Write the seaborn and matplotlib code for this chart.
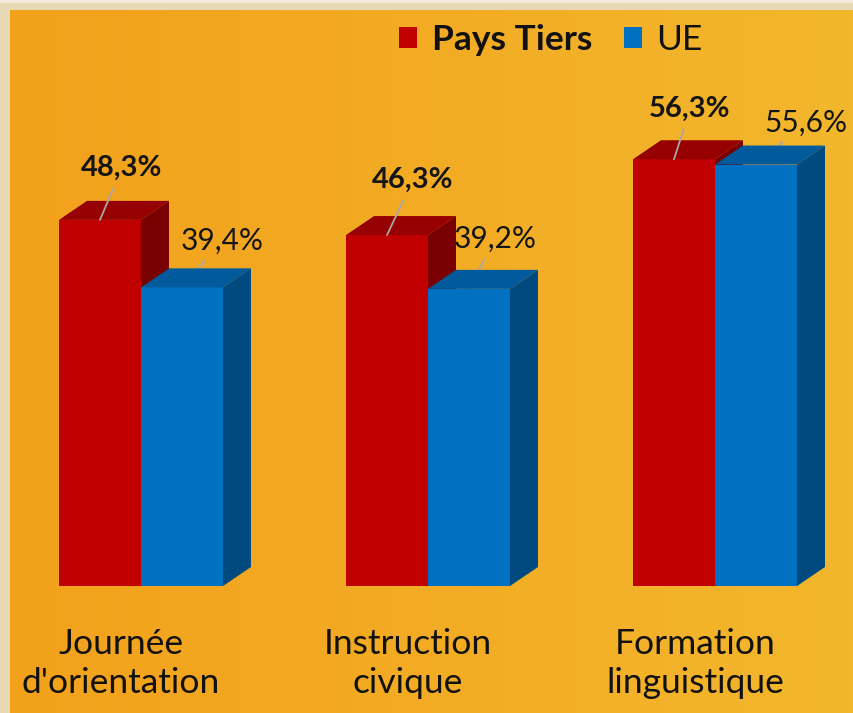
import numpy as np
import pandas as pd
import matplotlib
matplotlib.use("Agg")
import matplotlib.pyplot as plt
import matplotlib.transforms as mtransforms
import seaborn as sns
from matplotlib.patches import Polygon, Patch, Rectangle

# ---- data ----
categories = ["Journée\nd'orientation", "Instruction\ncivique", "Formation\nlinguistique"]
series = ["Pays Tiers", "UE"]
pays_tiers = [48.3, 46.3, 56.3]
ue = [39.4, 39.2, 55.6]

# ---- style ----
front_colors = ["#C00000", "#0070C0"]
top_colors = ["#960000", "#005A9C"]
side_colors = ["#780000", "#004A80"]
depth_px = (28, 19)
# label offsets in pixels (dx, dy) per series, per group
label_offsets = [[(22, 52), (26, 55), (16, 50)],
                 [(40, 47), (26, 50), (50, 42)]]

sns.set_style("white")
plt.rcParams["font.family"] = ["Lato", "DejaVu Sans"]

df = pd.DataFrame({
    "category": categories * 2,
    "series": [series[0]] * 3 + [series[1]] * 3,
    "value": pays_tiers + ue,
})

W, H = 854, 713
fig = plt.figure(figsize=(W / 100, H / 100), dpi=100, facecolor="#E6D9B3")
fig.add_artist(Rectangle((0, 1 - 3 / H), 1, 3 / H, transform=fig.transFigure,
                         facecolor="#F3EDDB", edgecolor="none"))

# gradient background
bg = fig.add_axes([10 / W, 0, 1 - 10 / W, (H - 10) / H], zorder=0)
c_left = np.array([242, 161, 27]) / 255
c_right = np.array([243, 183, 45]) / 255
t = np.linspace(0, 1, 256)
grad = (c_left[None, :] * (1 - t[:, None]) + c_right[None, :] * t[:, None])[None, :, :]
bg.imshow(grad, aspect="auto", extent=[0, 1, 0, 1])
bg.set_axis_off()

ax = fig.add_axes([10 / W, (H - 586) / H, 1 - 10 / W, (586 - 10) / H], zorder=1)
ax.patch.set_alpha(0)

sns.barplot(data=df, x="category", y="value", hue="series", palette=front_colors,
            width=164 / 287, gap=0, saturation=1, linewidth=0, ax=ax, legend=False)

ax.set_xlim(-131 / 287, 713 / 287)
ax.set_ylim(0, 576 / 7.58)
ax.set_xlabel("")
ax.set_ylabel("")
ax.set_yticks([])
for s in ax.spines.values():
    s.set_visible(False)
ax.tick_params(axis="x", length=0, pad=30, labelsize=25.5, labelcolor="#111111")
shift = mtransforms.ScaledTranslation(-20 / 100, 0, fig.dpi_scale_trans)
for tl in ax.get_xticklabels():
    tl.set_linespacing(1.27)
    tl.set_transform(tl.get_transform() + shift)

# depth in data units
p0 = ax.transData.transform((0, 0))
inv = ax.transData.inverted()
ddx, ddy = inv.transform(p0 + np.array(depth_px)) - inv.transform(p0)

for ci, cont in enumerate(ax.containers):
    z = 2 + ci
    for bi, bar in enumerate(cont):
        x0, w, h = bar.get_x(), bar.get_width(), bar.get_height()
        bar.set_zorder(z)
        top = Polygon([(x0, h), (x0 + w, h), (x0 + w + ddx, h + ddy), (x0 + ddx, h + ddy)],
                      closed=True, facecolor=top_colors[ci], edgecolor="none", zorder=z, clip_on=False)
        side = Polygon([(x0 + w, 0), (x0 + w + ddx, ddy), (x0 + w + ddx, h + ddy), (x0 + w, h)],
                       closed=True, facecolor=side_colors[ci], edgecolor="none", zorder=z, clip_on=False)
        ax.add_patch(top)
        ax.add_patch(side)
        dx, dy = label_offsets[ci][bi]
        txt = f"{h:.1f}".replace(".", ",") + "%"
        ax.annotate(txt, xy=(x0 + w / 2, h), xytext=(dx * 0.72, dy * 0.72),
                    textcoords="offset points", ha="center", va="center",
                    fontsize=21 if ci == 0 else 21.5,
                    fontweight="bold" if ci == 0 else "normal",
                    color="#151515", zorder=1.9 if ci == 1 else 6,
                    arrowprops=dict(arrowstyle="-", color="#A8A8A8", lw=1.3,
                                    shrinkA=3, shrinkB=0))

handles = [Patch(facecolor=c, edgecolor="none") for c in front_colors]
leg = fig.legend(handles, series, loc="center", bbox_to_anchor=(551 / W, 1 - 40 / H),
                 ncol=2, frameon=False, prop={"family": ["Lato"], "size": 25.5},
                 handlelength=0.5, handleheight=0.5, handletextpad=0.42,
                 columnspacing=0.9)
leg.get_texts()[0].set_fontweight("bold")
for tx in leg.get_texts():
    tx.set_color("#111111")

fig.savefig("out.png", dpi=100)
